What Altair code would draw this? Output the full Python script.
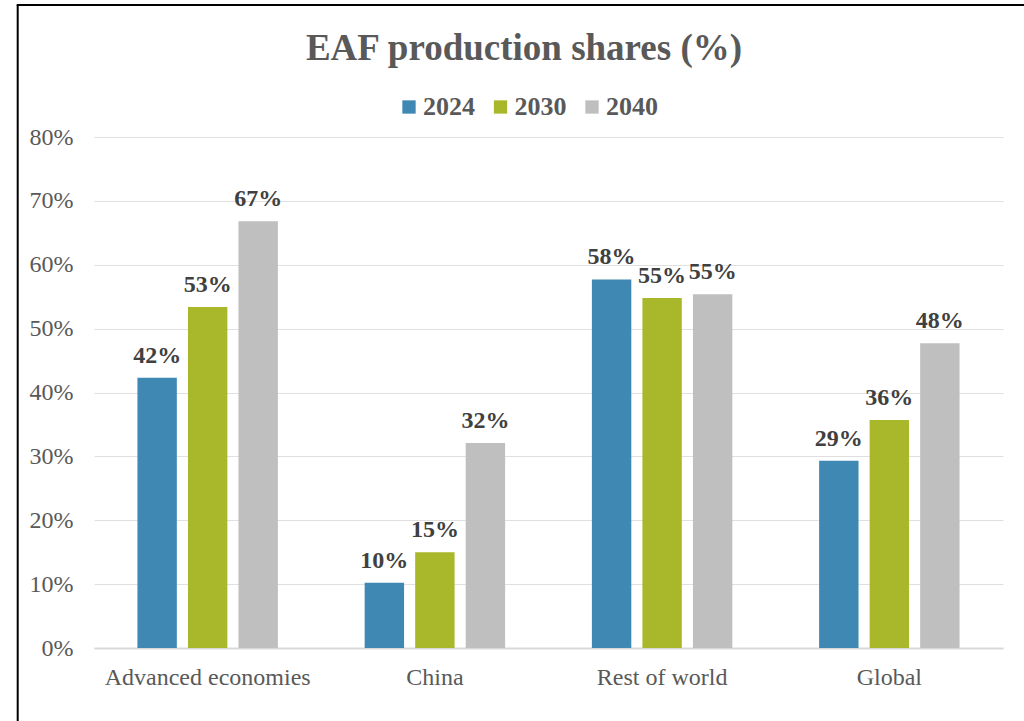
import altair as alt
import pandas as pd

regions = ["Advanced economies", "China", "Rest of world", "Global"]
years = ["2024", "2030", "2040"]
share_2024 = [0.423, 0.102, 0.577, 0.293]
share_2030 = [0.534, 0.150, 0.548, 0.357]
share_2040 = [0.668, 0.321, 0.554, 0.477]
colors = ["#3F88B3", "#A8B82A", "#BFBFBF"]

rows = []
for yr, vals in zip(years, [share_2024, share_2030, share_2040]):
    for r, v in zip(regions, vals):
        rows.append({"region": r, "year": yr, "share": v})
df = pd.DataFrame(rows)

SERIF = "'Liberation Serif', 'Times New Roman', serif"

x_enc = alt.X(
    "region:N",
    sort=regions,
    scale=alt.Scale(paddingInner=0.333, paddingOuter=0.1667),
    axis=alt.Axis(
        title=None, labelAngle=0, labelFont=SERIF, labelFontSize=24,
        labelColor="#595959", ticks=False, tickSize=0, labelPadding=17,
        labelLimit=400,
        domainColor="#D9D9D9", domainWidth=2, grid=False,
    ),
)
xoff_enc = alt.XOffset("year:N", sort=years,
                       scale=alt.Scale(paddingInner=0.22, paddingOuter=0.11))
y_enc = alt.Y(
    "share:Q",
    scale=alt.Scale(domain=[0, 0.8], nice=False),
    axis=alt.Axis(
        title=None, format=".0%", values=[0, 0.1, 0.2, 0.3, 0.4, 0.5, 0.6, 0.7, 0.8],
        labelFont=SERIF, labelFontSize=24, labelColor="#595959",
        ticks=False, tickSize=0, domain=False, labelPadding=21,
        gridColor="#E0E0E0", gridWidth=1.2,
    ),
)

bars = alt.Chart(df).mark_bar().encode(
    x=x_enc,
    xOffset=xoff_enc,
    y=y_enc,
    color=alt.Color(
        "year:N", sort=years,
        scale=alt.Scale(domain=years, range=colors),
        legend=alt.Legend(
            title=None, orient="none", direction="horizontal",
            legendX=302, legendY=-43,
            symbolType="square", symbolSize=177, symbolStrokeWidth=0,
            labelFont=SERIF, labelFontSize=26, labelFontWeight="bold",
            labelColor="#595959", labelOffset=1, columnPadding=12.5,
        ),
    ),
)

labels = alt.Chart(df).mark_text(
    font=SERIF, fontSize=24, fontWeight="bold", color="#404040",
    baseline="alphabetic", dy=-15,
).encode(
    x=alt.X("region:N", sort=regions),
    xOffset=alt.XOffset("year:N", sort=years),
    y=alt.Y("share:Q"),
    text=alt.Text("share:Q", format=".0%"),
)

one = alt.Data(values=[{"k": 1}])
frame_left = alt.Chart(one).mark_rule(color="black", strokeWidth=2).encode(
    x=alt.value(-76.3), y=alt.value(-132), y2=alt.value(700)
)
frame_top = alt.Chart(one).mark_rule(color="black", strokeWidth=2).encode(
    x=alt.value(-77.3), x2=alt.value(1100), y=alt.value(-132)
)

chart = alt.layer(bars, labels, frame_left, frame_top).properties(
    width=909,
    height=511,
    autosize=alt.AutoSizeParams(type="none"),
    padding={"left": 94, "top": 137, "right": 21, "bottom": 73},
    background="white",
    title=alt.TitleParams(
        "EAF production shares (%)", font=SERIF, fontSize=37, fontWeight="bold",
        color="#595959", anchor="middle", frame="group", dx=-24.5, offset=-64,
    ),
).configure_view(stroke=None)

chart.save("out.html", embed_options={"renderer": "svg", "actions": False})
